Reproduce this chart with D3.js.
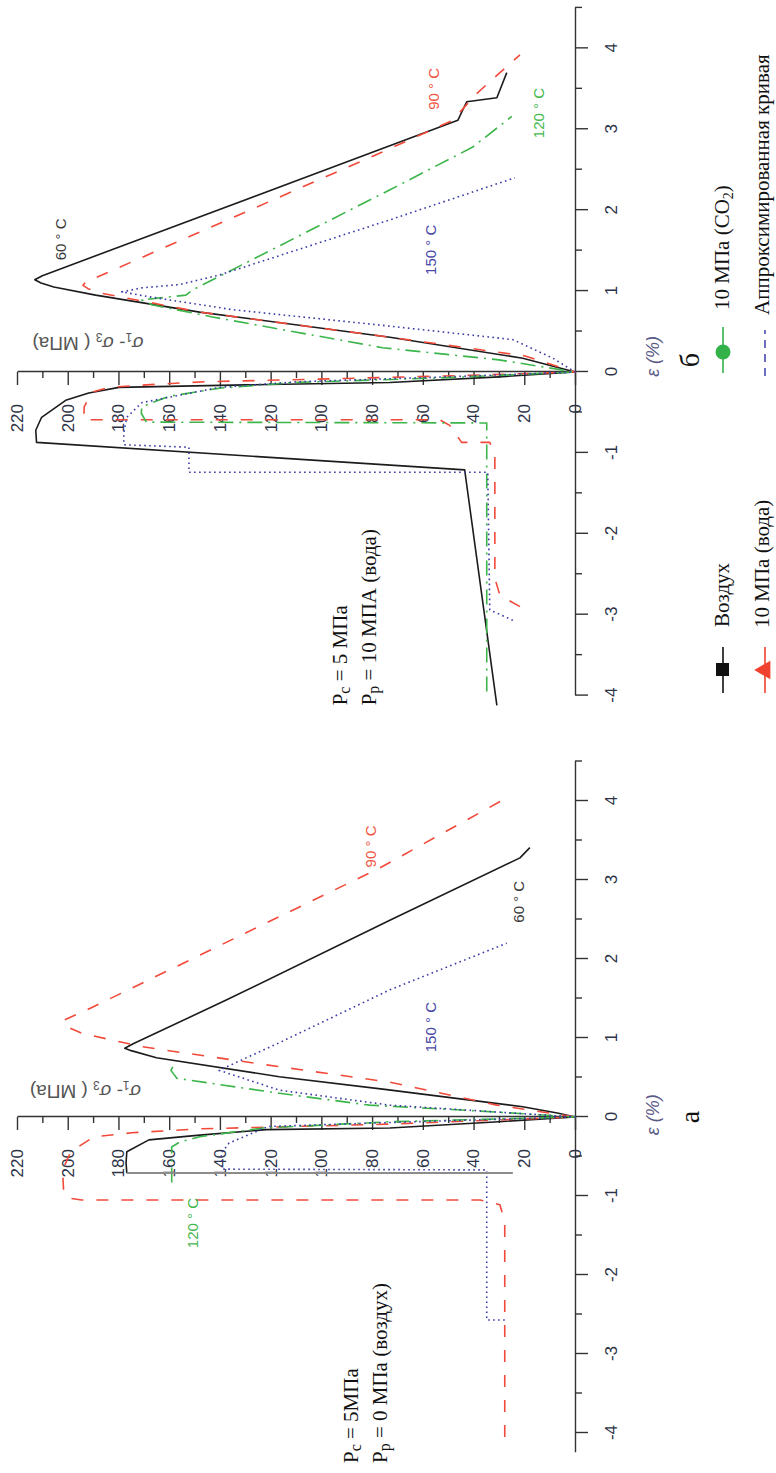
<!DOCTYPE html>
<head>
    <meta charset="utf-8">
    <title>σ1-σ3 vs ε, Pc = 5 МПа</title>
    <style>
        body { margin: 0; background: #fff; }
        svg { display: block; }
        .axis path, .axis line { stroke: #333; stroke-width: 1.4; }
        .axis text { font-family: "Liberation Sans", Arial, sans-serif; font-size: 17px; fill: #2d3347; }
        .serif { font-family: "Liberation Serif", "Times New Roman", serif; fill: #111; }
        .temp { font-family: "Liberation Sans", Arial, sans-serif; font-size: 15px; }
    </style>
</head>
<body>

<svg width="776" height="1473"></svg>

<script src="https://d3js.org/d3.v7.min.js"></script>

<script>

// ---- values: points are [ε %, σ1-σ3 МПа] ----
var epsTicks = [-4, -3, -2, -1, 0, 1, 2, 3, 4];
var epsMinor = [-3.5, -2.5, -1.5, -0.5, 0.5, 1.5, 2.5, 3.5, 4.5];
var sigTicks = [0, 20, 40, 60, 80, 100, 120, 140, 160, 180, 200, 220];
var sigMinor = [10, 30, 50, 70, 90, 110, 130, 150, 170, 190, 210];
var tempNames = ['60 ° C', '90 ° C', '120 ° C', '150 ° C'];
var legendNames = ['Воздух', '10 МПа (вода)', '10 МПа (CO', 'Аппроксимированная кривая'];

// panel а : Pc = 5 MPa, Pp = 0 (air)
var a60 = [[-0.71, 24.5], [-0.71, 176.7], [-0.58, 177], [-0.44, 176.7], [-0.29, 168], [-0.23, 148],
    [-0.16, 121.7], [-0.14, 73], [-0.06, 30], [0, 0], [0.05, 7], [0.13, 20.6], [0.35, 75], [0.51, 116.6],
    [0.75, 165], [0.84, 175], [0.87, 177.5], [0.93, 174], [1.48, 137.5], [2.49, 73], [3.28, 21.7], [3.41, 17.8]];
var a90 = [[-4.05, 27.7], [-1.33, 27.7], [-1.11, 29.6], [-1.05, 37.5], [-1.05, 194.5], [-1.03, 199],
    [-0.96, 201.6], [-0.67, 202], [-0.44, 198.8], [-0.25, 189.7], [-0.2, 174.7], [-0.15, 148], [-0.09, 73],
    [0, 0], [0.15, 30.8], [0.34, 58.5], [0.44, 73], [0.66, 121.7], [0.89, 170.8], [1.06, 194.5],
    [1.16, 201.6], [1.23, 201.2], [1.38, 190.9], [3.15, 77.1], [4.04, 26.9]];
var a120 = [[-0.83, 159], [-0.38, 159], [-0.32, 156], [-0.25, 148], [-0.14, 123], [-0.06, 73], [0, 0],
    [0.08, 40], [0.15, 81], [0.30, 116.6], [0.49, 157], [0.59, 159.3], [0.64, 158.5]];
var a150 = [[-2.57, 27.7], [-2.57, 34.8], [-0.67, 34.8], [-0.66, 139.1], [-0.46, 139.5], [-0.33, 136.4],
    [-0.12, 121], [-0.07, 73], [0, 0], [0.15, 73], [0.34, 116.6], [0.59, 140.3], [0.72, 131.6],
    [0.94, 116.6], [1.61, 73], [2.2, 26.9]];

// panel б : Pc = 5 MPa, Pp = 10 MPa (water)
var b60 = [[-4.12, 30.8], [-1.21, 43.5], [-0.87, 212.3], [-0.72, 212.6], [-0.56, 210.3], [-0.35, 200.8],
    [-0.26, 191.7], [-0.19, 179.8], [-0.16, 130], [-0.13, 73], [-0.06, 30], [0, 0], [0.17, 20.6],
    [0.43, 73], [0.74, 148], [0.95, 189], [1.05, 205.5], [1.10, 210.5], [1.14, 213], [1.19, 210],
    [3.11, 46.2], [3.34, 42.7], [3.39, 30.8], [3.70, 26.9]];
var b90 = [[-2.90, 21.7], [-2.76, 29.6], [-2.55, 31.6], [-1.03, 31.6], [-0.87, 33.6], [-0.87, 44.7],
    [-0.66, 49.4], [-0.59, 53.4], [-0.59, 193.7], [-0.43, 193.5], [-0.25, 190.5], [-0.19, 183.8],
    [-0.15, 164], [-0.12, 145], [-0.08, 90], [-0.04, 40], [0, 0], [0.2, 20], [0.43, 73], [0.74, 148],
    [0.98, 187.7], [1.03, 192], [1.07, 194], [1.11, 193], [2.72, 75.9], [3.11, 48.2], [3.42, 39.5],
    [3.70, 29.6], [3.92, 21.7]];
var b120 = [[-3.95, 34.8], [-0.63, 34.8], [-0.62, 169], [-0.51, 171], [-0.43, 170.8], [-0.3, 160],
    [-0.2, 140], [-0.13, 111], [-0.07, 50], [0, 0], [0.15, 30], [0.30, 75.9], [0.68, 143], [0.83, 166.8],
    [0.89, 170.8], [0.95, 153.4], [1.01, 151], [2.25, 73.1], [2.78, 40.3], [3.16, 24.9]];
var b150 = [[-3.07, 24.5], [-2.94, 33.6], [-1.24, 34.4], [-1.24, 152.2], [-0.93, 152.2], [-0.90, 177.9],
    [-0.75, 177.9], [-0.56, 176.7], [-0.38, 170.8], [-0.19, 140.3], [-0.12, 108.7], [-0.06, 50], [0, 0],
    [0.17, 8.7], [0.40, 24.5], [0.58, 77], [0.77, 135], [0.93, 168], [0.99, 178.7], [1.04, 170.8],
    [1.08, 156], [1.2, 140], [1.88, 73], [2.40, 23.7]];

// line looks per temperature (60, 90, 120, 150 °C)
var looks = [
    { stroke: '#1c1c1c', dash: null,         text: '#3a3a3a' },
    { stroke: '#f24a3a', dash: '12,13',      text: '#f0553f' },
    { stroke: '#3cb54b', dash: '15,6,2,6',   text: '#45b84f' },
    { stroke: '#3a3aa6', dash: '1.6,3.4',    text: '#4848a8' }
];

var svg = d3.select('svg'),
    W = +svg.attr('width'),
    H = +svg.attr('height');

// the whole figure lies on its side: draw it upright and turn it
var fig = svg.append('g')
    .attr('transform', `translate(0,${H}) rotate(-90)`);

var y = d3.scaleLinear().domain([0, 220]).range([575, 17]);

function drawPanel(p) {
    var x = d3.scaleLinear().domain(p.epsDomain).range(p.uRange);
    var g = fig.append('g');
    var line = d3.line().x(d => x(d[0])).y(d => y(d[1]));

    // ε axis (along σ = 0)
    g.append('g').attr('class', 'axis')
        .attr('transform', `translate(0,${y(0)})`)
        .call(d3.axisBottom(x).tickValues(epsTicks).tickSize(13).tickPadding(17)
            .tickSizeOuter(0).tickFormat(d => String(d)));
    g.append('g').attr('class', 'axis')
        .attr('transform', `translate(0,${y(0)})`)
        .call(d3.axisBottom(x).tickValues(epsMinor).tickSize(7).tickFormat(''))
        .select('.domain').remove();

    // σ axis (along ε = 0)
    g.append('g').attr('class', 'axis')
        .attr('transform', `translate(${x(0)},0)`)
        .call(d3.axisLeft(y).tickValues(sigTicks).tickSize(13).tickPadding(19).tickSizeOuter(0));
    g.append('g').attr('class', 'axis')
        .attr('transform', `translate(${x(0)},0)`)
        .call(d3.axisLeft(y).tickValues(sigMinor).tickSize(6).tickFormat(''))
        .select('.domain').remove();

    // curves
    p.series.forEach((s, i) => {
        var pts = (i === 0 && p.greyDrop) ? s.slice(1) : s;
        g.append('path')
            .attr('d', line(pts))
            .attr('fill', 'none')
            .attr('stroke', looks[i].stroke)
            .attr('stroke-width', 1.6)
            .attr('stroke-dasharray', looks[i].dash)
            .attr('stroke-linejoin', 'round');
    });
    if (p.greyDrop) {
        g.append('path')
            .attr('d', line(p.series[0].slice(0, 2)))
            .attr('fill', 'none')
            .attr('stroke', '#8c8c8c')
            .attr('stroke-width', 2);
    }

    // temperature labels
    p.temps.forEach((t, i) => {
        g.append('text').attr('class', 'temp')
            .attr('x', x(t[0])).attr('y', y(t[1]))
            .attr('fill', looks[i].text)
            .text(tempNames[i]);
    });

    // σ1-σ3 title, standing on end
    var tt = g.append('text')
        .attr('transform', `translate(${x(p.title[0])},${y(p.title[1])}) rotate(-90)`)
        .attr('text-anchor', 'middle')
        .style('font-family', '"Liberation Sans", Arial, sans-serif')
        .style('font-size', '19px')
        .attr('fill', '#555');
    tt.append('tspan').style('font-style', 'italic').text('σ');
    tt.append('tspan').attr('dy', 4).style('font-size', '12px').text('1');
    tt.append('tspan').attr('dy', -4).text('- ');
    tt.append('tspan').style('font-style', 'italic').text('σ');
    tt.append('tspan').attr('dy', 4).style('font-size', '12px').text('3');
    tt.append('tspan').attr('dy', -4).text(' ( МПа)');

    // ε (%)
    g.append('text')
        .attr('x', x(p.epsLabel)).attr('y', y(0) + 84)
        .style('font-family', '"Liberation Sans", Arial, sans-serif')
        .style('font-size', '18px').style('font-style', 'italic')
        .attr('fill', '#5b5b86')
        .text('ε (%)');

    // panel letter
    g.append('text').attr('class', 'serif')
        .attr('x', x(p.letterAt)).attr('y', y(0) + 124)
        .style('font-size', '28px')
        .text(p.letter);

    // conditions
    var c1 = g.append('text').attr('class', 'serif')
        .attr('x', x(p.condAt)).attr('y', y(p.condSig[0]))
        .style('font-size', '21px');
    c1.append('tspan').text('P');
    c1.append('tspan').attr('dy', 3).style('font-size', '16px').text('c');
    c1.append('tspan').attr('dy', -3).text(p.cond[0]);
    var c2 = g.append('text').attr('class', 'serif')
        .attr('x', x(p.condAt)).attr('y', y(p.condSig[1]))
        .style('font-size', '21px');
    c2.append('tspan').text('P');
    c2.append('tspan').attr('dy', 3).style('font-size', '16px').text('p');
    c2.append('tspan').attr('dy', -3).text(p.cond[1]);
}

drawPanel({
    epsDomain: [-4.25, 4.5], uRange: [20.25, 711.5],
    series: [a60, a90, a120, a150], greyDrop: true,
    temps: [[2.46, 20.2], [3.16, 78.3], [-1.66, 148.6], [0.82, 55]],
    title: [0.41, 193], epsLabel: -0.23, letter: 'а', letterAt: -0.08,
    cond: [' = 5МПа', ' = 0 МПа (воздух)'], condAt: -4.38, condSig: [85.4, 74.1]
});

drawPanel({
    epsDomain: [-4, 4.5], uRange: [777.4, 1465.1],
    series: [b60, b90, b120, b150], greyDrop: false,
    temps: [[1.38, 200.8], [3.24, 53.8], [2.89, 12.3], [1.2, 55]],
    title: [0.43, 192], epsLabel: -0.06, letter: 'б', letterAt: 0.06,
    cond: [' = 5 МПа', ' = 10 МПА (вода)'], condAt: -4.12, condSig: [89.7, 78.3]
});

// legend, two rows under panel б
var legend = fig.append('g');
var legRows = [
    { u: 780, v: 723, text: 846, base: 729 },
    { u: 780, v: 765, text: 845, base: 769 },
    { u: 1100, v: 723, text: 1163, base: 729 },
    { u: 1097, v: 765, text: 1158, base: 769 }
];
var legColors = ['#111', '#f0402e', '#34b24a', '#4a4ab0'];
legendNames.forEach((name, i) => {
    var r = legRows[i];
    var item = legend.append('g').attr('transform', `translate(${r.u},${r.v})`);
    item.append('line')
        .attr('x1', 0).attr('x2', 46).attr('y1', 0).attr('y2', 0)
        .attr('stroke', legColors[i]).attr('stroke-width', 1.6)
        .attr('stroke-dasharray', i === 3 ? '8,6' : null);
    if (i === 0) {
        item.append('rect').attr('x', 17).attr('y', -7).attr('width', 13).attr('height', 13).attr('fill', legColors[i]);
    } else if (i === 1) {
        item.append('path').attr('d', d3.symbol(d3.symbolTriangle, 150)()).attr('transform', 'translate(23,0)').attr('fill', legColors[i]);
    } else if (i === 2) {
        item.append('circle').attr('cx', 21).attr('cy', 0).attr('r', 7.5).attr('fill', legColors[i]);
    }
    var t = legend.append('text').attr('class', 'serif')
        .attr('x', r.text).attr('y', r.base)
        .style('font-size', '21px')
        .text(name);
    if (i === 2) {
        t.append('tspan').attr('dy', 4).style('font-size', '14px').text('2');
        t.append('tspan').attr('dy', -4).text(')');
    }
});

</script>

</body>
